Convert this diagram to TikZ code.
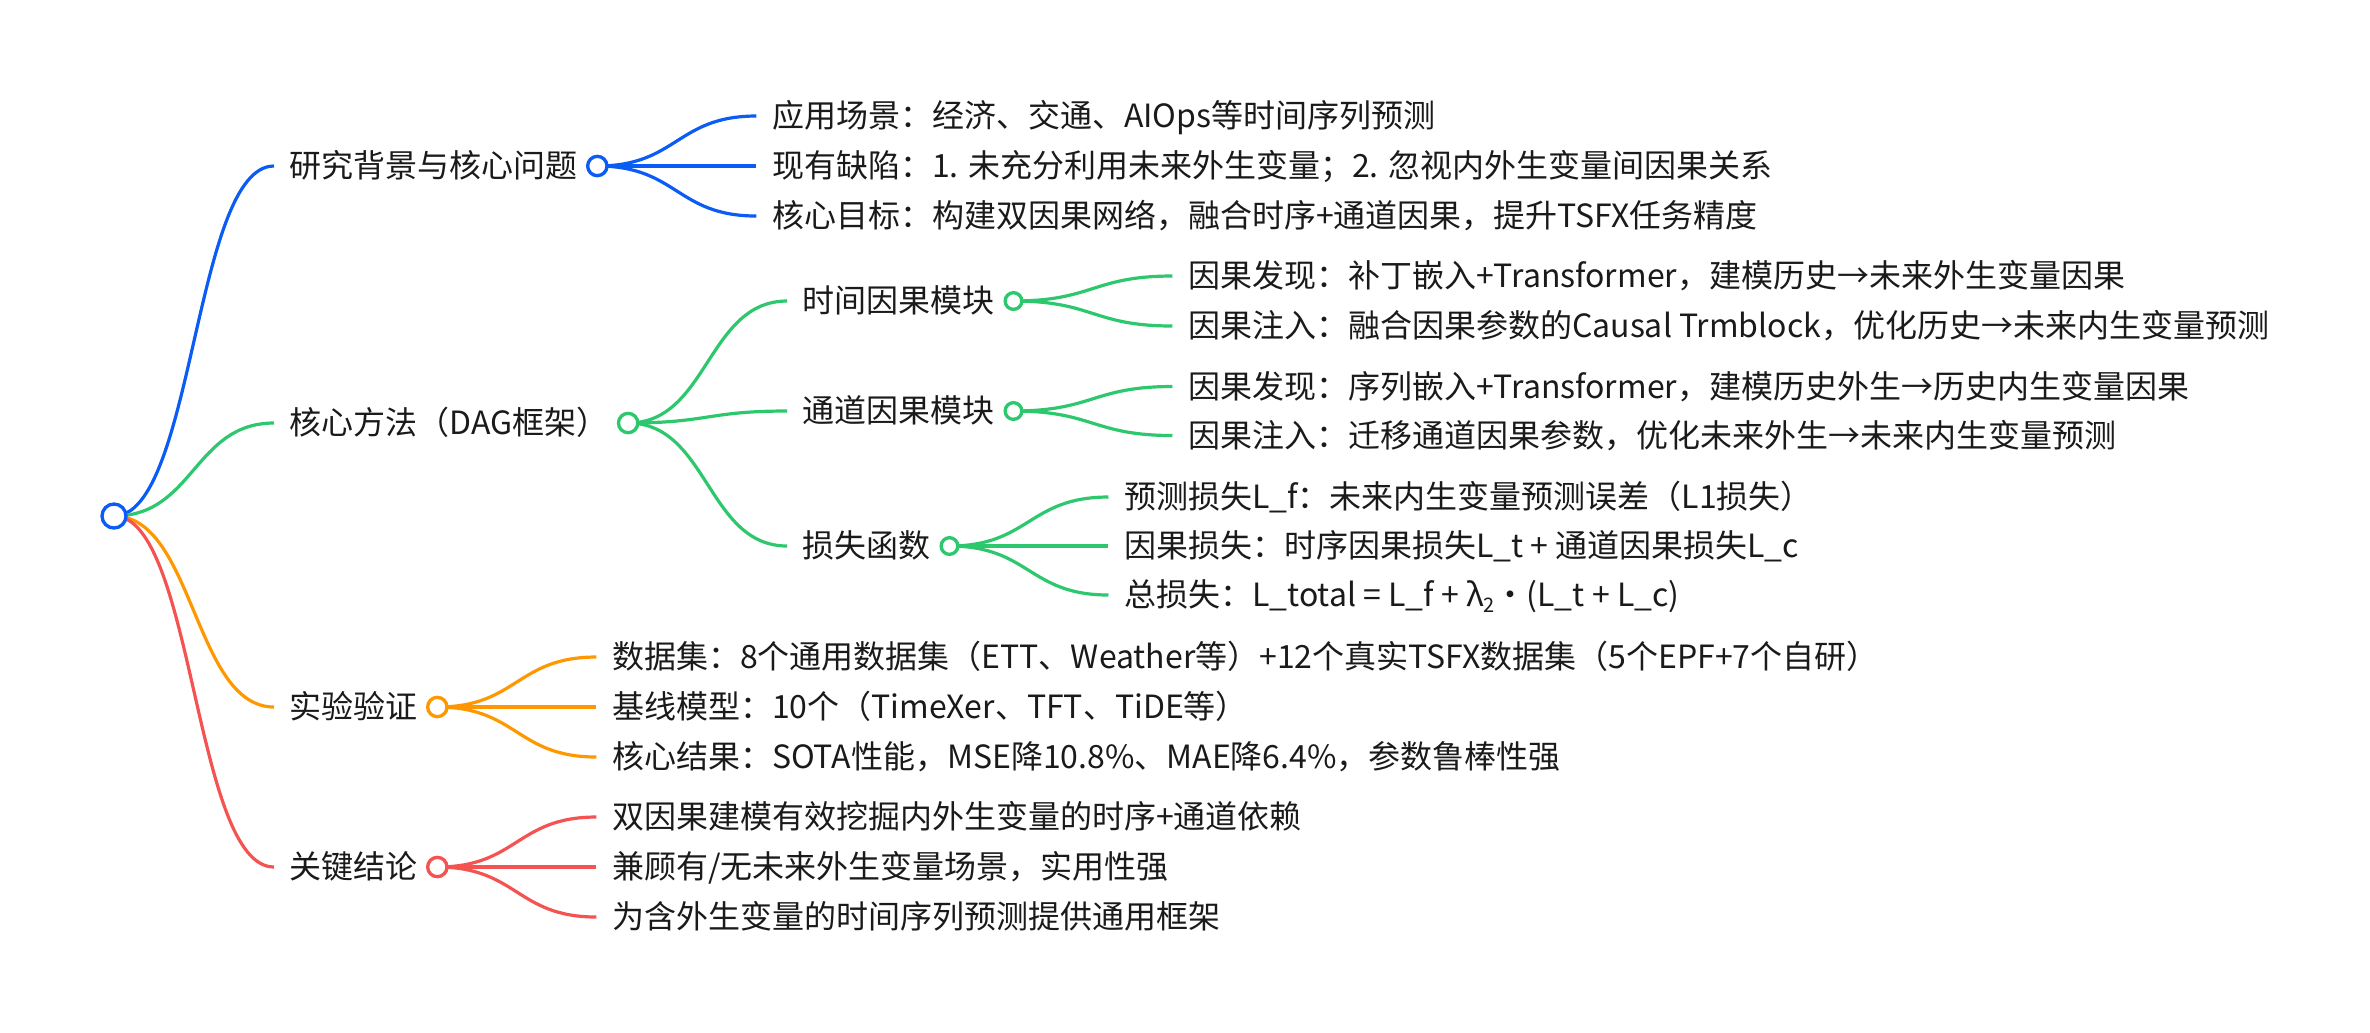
\documentclass[tikz,border=0pt]{standalone}
\usepackage{fontspec}
\setmainfont{Noto Sans CJK SC}
\usetikzlibrary{calc,positioning}
\definecolor{cblue}{HTML}{0A5CF5}
\definecolor{cgreen}{HTML}{2DC86E}
\definecolor{corange}{HTML}{FF9800}
\definecolor{cred}{HTML}{F55252}
\definecolor{ctext}{HTML}{1A1A1A}
\pgfdeclarelayer{bg}
\pgfsetlayers{bg,main}
\begin{document}
\begin{tikzpicture}[x=0.3pt,y=-0.3pt,
  link/.style={line width=0.96pt},
  dot/.style={circle, draw, fill=white, line width=1pt, inner sep=0pt},
  rootdot/.style={dot, minimum size=7.2pt},
  dotone/.style={dot, minimum size=5.8pt},
  dottwo/.style={dot, minimum size=5pt},
  lbl/.style={anchor=west, inner sep=0pt, text=ctext, font=\fontsize{9.6pt}{12pt}\selectfont, text height=8.26pt, text depth=1.34pt},
]
\useasboundingbox (0,0) rectangle (2370,1032);

% root
\node[rootdot, draw=cblue] (root) at (114,516) {};

% level 1
\coordinate (Ae) at (274,166);
\node[lbl, right=4.5pt of Ae] (At) {研究背景与核心问题};
\node[dotone, draw=cblue] (Ac) at ($(At.east)+(19,0)$) {};

\coordinate (Be) at (274,423);
\node[lbl, right=4.5pt of Be] (Bt) {核心方法（DAG框架）};
\node[dotone, draw=cgreen] (Bc) at ($(Bt.east)+(19,0)$) {};

\coordinate (Ce) at (274,707);
\node[lbl, right=4.5pt of Ce] (Ct) {实验验证};
\node[dotone, draw=corange] (Cc) at ($(Ct.east)+(19,0)$) {};

\coordinate (De) at (274,867);
\node[lbl, right=4.5pt of De] (Dt) {关键结论};
\node[dotone, draw=cred] (Dc) at ($(Dt.east)+(19,0)$) {};

% A children
\coordinate (A1e) at ($(Ac)+(159,-50)$);
\coordinate (A2e) at ($(Ac)+(159,0)$);
\coordinate (A3e) at ($(Ac)+(159,50)$);
\node[lbl, right=4.5pt of A1e] (A1t) {应用场景：经济、交通、AIOps等时间序列预测};
\node[lbl, right=4.5pt of A2e] (A2t) {现有缺陷：1. 未充分利用未来外生变量；2. 忽视内外生变量间因果关系};
\node[lbl, right=4.5pt of A3e] (A3t) {核心目标：构建双因果网络，融合时序+通道因果，提升TSFX任务精度};

% B children
\coordinate (B1e) at ($(Bc)+(159,-122)$);
\coordinate (B2e) at ($(Bc)+(159,-12)$);
\coordinate (B3e) at ($(Bc)+(159,123)$);
\node[lbl, right=4.5pt of B1e] (B1t) {时间因果模块};
\node[dottwo, draw=cgreen] (B1c) at ($(B1t.east)+(18,0)$) {};
\node[lbl, right=4.5pt of B2e] (B2t) {通道因果模块};
\node[dottwo, draw=cgreen] (B2c) at ($(B2t.east)+(18,0)$) {};
\node[lbl, right=4.5pt of B3e] (B3t) {损失函数};
\node[dottwo, draw=cgreen] (B3c) at ($(B3t.east)+(18,0)$) {};

\coordinate (B11e) at ($(B1c)+(159,-25)$);
\coordinate (B12e) at ($(B1c)+(159,25)$);
\node[lbl, right=4.5pt of B11e] (B11t) {因果发现：补丁嵌入+Transformer，建模历史→未来外生变量因果};
\node[lbl, right=4.5pt of B12e] (B12t) {因果注入：融合因果参数的Causal Trmblock，优化历史→未来内生变量预测};

\coordinate (B21e) at ($(B2c)+(159,-24.5)$);
\coordinate (B22e) at ($(B2c)+(159,24.5)$);
\node[lbl, right=4.5pt of B21e] (B21t) {因果发现：序列嵌入+Transformer，建模历史外生→历史内生变量因果};
\node[lbl, right=4.5pt of B22e] (B22t) {因果注入：迁移通道因果参数，优化未来外生→未来内生变量预测};

\coordinate (B31e) at ($(B3c)+(159,-49)$);
\coordinate (B32e) at ($(B3c)+(159,0)$);
\coordinate (B33e) at ($(B3c)+(159,49)$);
\node[lbl, right=4.5pt of B31e] (B31t) {预测损失L\_f：未来内生变量预测误差（L1损失）};
\node[lbl, right=4.5pt of B32e] (B32t) {因果损失：时序因果损失L\_t + 通道因果损失L\_c};
\node[lbl, right=4.5pt of B33e] (B33t) {总损失：L\_total = L\_f + λ\raisebox{-0.35ex}{\fontsize{6pt}{6pt}\selectfont 2}・(L\_t + L\_c)};

% C children
\coordinate (C1e) at ($(Cc)+(159,-50)$);
\coordinate (C2e) at ($(Cc)+(159,0)$);
\coordinate (C3e) at ($(Cc)+(159,50)$);
\node[lbl, right=4.5pt of C1e] (C1t) {数据集：8个通用数据集（ETT、Weather等）+12个真实TSFX数据集（5个EPF+7个自研）};
\node[lbl, right=4.5pt of C2e] (C2t) {基线模型：10个（TimeXer、TFT、TiDE等）};
\node[lbl, right=4.5pt of C3e] (C3t) {核心结果：SOTA性能，MSE降10.8\%、MAE降6.4\%，参数鲁棒性强};

% D children
\coordinate (D1e) at ($(Dc)+(159,-50)$);
\coordinate (D2e) at ($(Dc)+(159,0)$);
\coordinate (D3e) at ($(Dc)+(159,50)$);
\node[lbl, right=4.5pt of D1e] (D1t) {双因果建模有效挖掘内外生变量的时序+通道依赖};
\node[lbl, right=4.5pt of D2e] (D2t) {兼顾有/无未来外生变量场景，实用性强};
\node[lbl, right=4.5pt of D3e] (D3t) {为含外生变量的时间序列预测提供通用框架};

% connectors
\begin{pgfonlayer}{bg}
\draw[link, cblue] (root.center) .. controls +(80,0) and +(-80,0) .. (Ae);
\draw[link, cgreen] (root.center) .. controls +(80,0) and +(-80,0) .. (Be);
\draw[link, corange] (root.center) .. controls +(80,0) and +(-80,0) .. (Ce);
\draw[link, cred] (root.center) .. controls +(80,0) and +(-80,0) .. (De);

\foreach \e in {A1e,A2e,A3e}
  \draw[link, cblue] (Ac.center) .. controls +(80,0) and +(-80,0) .. (\e);
\foreach \e in {B1e,B2e,B3e}
  \draw[link, cgreen] (Bc.center) .. controls +(80,0) and +(-80,0) .. (\e);
\foreach \e in {B11e,B12e}
  \draw[link, cgreen] (B1c.center) .. controls +(80,0) and +(-80,0) .. (\e);
\foreach \e in {B21e,B22e}
  \draw[link, cgreen] (B2c.center) .. controls +(80,0) and +(-80,0) .. (\e);
\foreach \e in {B31e,B32e,B33e}
  \draw[link, cgreen] (B3c.center) .. controls +(80,0) and +(-80,0) .. (\e);
\foreach \e in {C1e,C2e,C3e}
  \draw[link, corange] (Cc.center) .. controls +(80,0) and +(-80,0) .. (\e);
\foreach \e in {D1e,D2e,D3e}
  \draw[link, cred] (Dc.center) .. controls +(80,0) and +(-80,0) .. (\e);
\end{pgfonlayer}
\end{tikzpicture}
\end{document}
